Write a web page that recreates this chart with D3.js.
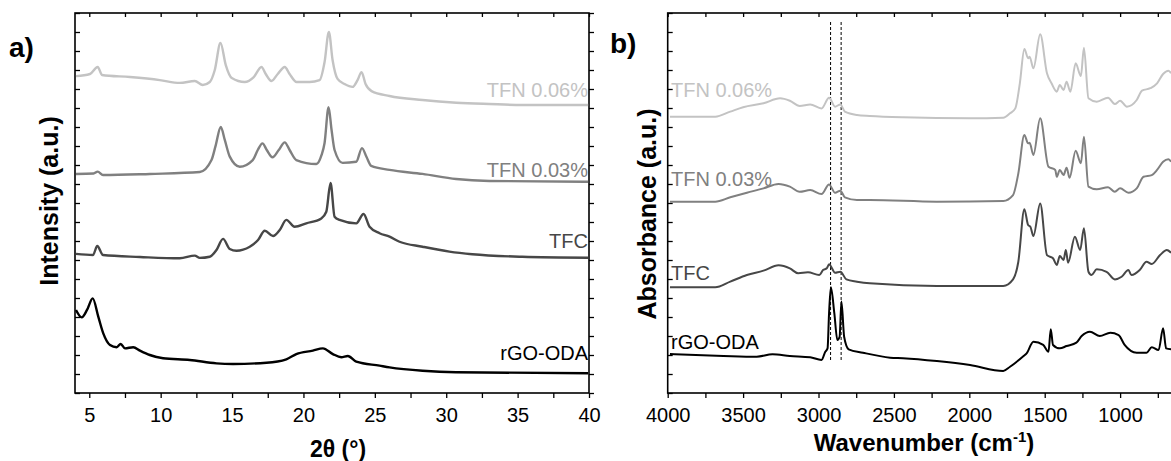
<!DOCTYPE html>
<html>
<head>
<meta charset="utf-8">
<script src="https://cdn.jsdelivr.net/npm/d3@7"></script>
<style>
  body { margin: 0; background: #fff; }
  text { font-family: "Liberation Sans", Arial, sans-serif; }
</style>
</head>
<body>
<div id="chart"></div>
<script>
// ---- data (intensity / absorbance in arbitrary units) ----
const seriesNames = ["rGO-ODA", "TFC", "TFN 0.03%", "TFN 0.06%"];
const seriesColors = ["#000000", "#474747", "#808080", "#c3c3c3"];

// a) XRD: [2theta (deg), intensity]
const xrdRgo = [[4.07,4.37],[4.47,3.98],[4.84,4.37],[5.24,4.98],[5.63,4.02],[5.98,3.14],[6.45,2.53],[6.92,2.41],[7.2,2.58],[7.5,2.35],[8.08,2.41],[8.55,2.23],[9.24,2.0],[10.17,1.83],[12.04,1.74],[13.91,1.56],[15.07,1.53],[17.41,1.59],[18.8,1.77],[19.5,2.05],[20.66,2.23],[21.36,2.35],[22.06,2.05],[22.65,1.88],[23.11,1.95],[23.7,1.65],[25.33,1.44],[26.03,1.35],[28.34,1.17],[30.69,1.09],[39.94,1.04]];
const xrdTfc = [[4.07,7.32],[5.26,7.26],[5.56,7.74],[5.96,7.26],[8.55,7.16],[11.34,7.09],[12.39,7.23],[12.74,7.11],[13.44,7.17],[13.91,7.53],[14.37,8.11],[14.84,7.58],[15.31,7.49],[16.24,7.7],[16.82,8.05],[17.29,8.54],[17.87,8.26],[18.34,8.58],[18.8,9.11],[19.38,8.75],[20.2,8.93],[21.25,9.19],[21.6,9.54],[21.9,11.05],[22.18,9.28],[22.53,9.11],[23.7,8.93],[24.21,9.42],[24.63,8.75],[25.33,8.41],[26.03,8.23],[26.73,7.96],[28.34,7.7],[30.22,7.44],[31.83,7.3],[35.33,7.17],[39.94,7.12]];
const xrdTfn003 = [[4.07,11.53],[5.3,11.55],[5.59,11.65],[5.96,11.47],[9.24,11.53],[12.74,11.63],[13.56,12.26],[13.86,13.05],[14.21,14.0],[14.49,13.32],[14.84,12.44],[15.54,11.91],[16.45,12.26],[16.8,12.79],[17.13,13.14],[17.43,12.79],[17.83,12.41],[18.27,12.79],[18.69,13.19],[19.03,12.79],[19.5,12.26],[20.9,12.05],[21.27,12.53],[21.48,13.16],[21.76,15.04],[21.97,13.84],[22.18,12.79],[22.74,12.11],[23.7,12.17],[24.1,12.89],[24.42,12.42],[24.75,11.95],[26.03,11.74],[28.34,11.53],[30.69,11.26],[33.02,11.16],[39.94,11.12]];
const xrdTfn006 = [[4.07,16.68],[5.05,16.79],[5.59,17.16],[5.89,16.74],[7.85,16.63],[9.94,16.47],[11.34,16.32],[12.39,16.42],[12.95,16.21],[13.44,16.37],[13.79,17.0],[14.19,18.42],[14.56,17.26],[14.98,16.58],[15.89,16.37],[16.52,16.63],[17.06,17.16],[17.36,16.79],[17.76,16.42],[18.2,16.79],[18.69,17.16],[19.03,16.79],[19.52,16.37],[20.43,16.37],[21.13,16.47],[21.48,17.42],[21.78,19.0],[22.04,17.53],[22.39,16.53],[22.88,16.26],[23.44,16.11],[23.79,16.47],[24.07,16.89],[24.35,16.26],[24.77,15.89],[26.03,15.63],[28.34,15.42],[30.71,15.28],[33.02,15.21],[35.33,15.16],[39.94,15.16]];

// b) FTIR: [wavenumber (cm-1), absorbance]
const ftirRgo = [[3985,2.05],[3630,1.95],[3410,1.91],[3305,2.04],[3190,1.95],[3055,1.88],[2980,1.74],[2955,2.17],[2940,2.35],[2930,4.19],[2918,5.56],[2895,4.19],[2875,2.79],[2860,2.96],[2848,4.81],[2830,2.96],[2800,2.3],[2705,2.12],[2525,1.86],[2440,1.83],[2215,1.68],[1995,1.47],[1775,1.16],[1730,1.38],[1640,1.95],[1620,2.09],[1575,2.7],[1510,2.53],[1475,2.17],[1460,3.35],[1445,2.53],[1400,2.35],[1355,2.47],[1290,2.65],[1255,3.0],[1200,3.23],[1135,3.0],[1065,3.17],[1010,3.05],[970,2.53],[890,2.12],[825,2.12],[790,2.41],[745,2.26],[715,3.41],[695,2.35],[662,2.3]];
const ftirTfc = [[3985,5.56],[3685,5.56],[3585,5.86],[3475,6.21],[3365,6.44],[3265,6.72],[3190,6.56],[3135,6.3],[3070,6.35],[2995,6.21],[2970,6.47],[2945,6.56],[2930,6.77],[2890,6.33],[2855,6.38],[2815,5.98],[2745,5.86],[2660,5.77],[2215,5.63],[1775,5.63],[1710,5.98],[1675,6.91],[1635,9.67],[1610,8.84],[1595,8.75],[1575,8.26],[1530,9.98],[1485,7.26],[1445,7.09],[1420,6.74],[1400,7.21],[1375,7.0],[1360,7.53],[1345,6.86],[1300,8.23],[1265,7.53],[1240,8.67],[1210,6.38],[1190,6.21],[1155,6.51],[1090,6.38],[1035,5.98],[990,6.12],[945,6.47],[925,6.21],[870,6.47],[825,6.91],[790,6.79],[735,7.26],[690,7.53],[662,7.38]];
const ftirTfn003 = [[3985,10.07],[3685,10.07],[3585,10.3],[3475,10.54],[3365,10.77],[3265,11.0],[3190,10.86],[3125,10.59],[3055,10.68],[2980,10.47],[2930,10.98],[2890,10.54],[2855,10.65],[2825,10.3],[2745,10.16],[2660,10.16],[2215,10.07],[1775,10.11],[1710,10.42],[1675,11.56],[1635,13.58],[1610,13.14],[1600,13.17],[1575,12.53],[1530,14.46],[1475,11.91],[1430,11.74],[1420,11.38],[1400,11.74],[1375,11.47],[1355,11.86],[1335,11.33],[1295,12.75],[1260,12.09],[1240,13.49],[1210,10.86],[1155,10.72],[1080,10.83],[1035,10.59],[1000,10.77],[945,10.54],[890,10.77],[845,11.38],[790,11.47],[755,11.74],[715,12.17],[680,12.3],[662,12.17]];
const ftirTfn006 = [[3985,14.54],[3685,14.54],[3585,14.81],[3500,15.04],[3365,15.25],[3255,15.51],[3190,15.38],[3125,15.11],[3055,15.19],[2980,14.98],[2930,15.54],[2890,15.07],[2855,15.19],[2825,14.81],[2745,14.63],[2660,14.58],[2440,14.51],[1995,14.46],[1775,14.49],[1730,14.72],[1695,14.98],[1665,16.3],[1635,18.11],[1610,17.62],[1600,17.7],[1575,17.09],[1530,18.88],[1485,16.83],[1455,16.3],[1420,15.86],[1400,16.21],[1375,15.95],[1355,16.38],[1330,15.86],[1295,17.35],[1260,16.68],[1240,18.17],[1210,15.51],[1155,15.33],[1080,15.54],[1035,15.21],[1000,15.38],[955,15.07],[890,15.42],[855,15.91],[800,16.04],[755,16.3],[715,16.79],[680,16.96],[662,16.83]];

const xrdTicks = [5, 10, 15, 20, 25, 30, 35, 40];
const ftirTicks = [4000, 3500, 3000, 2500, 2000, 1500, 1000];
const markerLines = [2920, 2850];

// ---- layout ----
const width = 1171, height = 461;
const plotTop = 13, plotBottom = 393;

const svg = d3.select("#chart").append("svg")
    .attr("width", width)
    .attr("height", height);

const y = d3.scaleLinear().domain([0, 20]).range([plotBottom, plotTop]);
const yTicks = d3.range(0, 21);

const xA = d3.scaleLinear().domain([4, 40]).range([75, 589]);
const xB = d3.scaleLinear().domain([4000, 650]).range([667.7, 1172.9]);

function styleAxis(g) {
    g.select(".domain").remove();
    g.selectAll(".tick line").attr("stroke", "#000").attr("stroke-width", 1.3);
    g.selectAll(".tick text").attr("font-size", 20).attr("fill", "#000")
        .attr("font-family", "Liberation Sans, Arial, sans-serif");
}

function drawFrame(x, xTickVals, majorVals) {
    const [x0, x1] = x.range();
    svg.append("g").attr("transform", `translate(0,${plotBottom})`)
        .call(d3.axisBottom(x).tickValues(xTickVals).tickSize(5).tickPadding(10)
            .tickFormat(d => majorVals.includes(d) ? d : ""))
        .call(styleAxis);
    svg.append("g").attr("transform", `translate(0,${plotTop})`)
        .call(d3.axisTop(x).tickValues(xTickVals).tickSize(-4).tickFormat(""))
        .call(styleAxis);
    svg.append("g").attr("transform", `translate(${x0},0)`)
        .call(d3.axisLeft(y).tickValues(yTicks).tickSize(-5).tickFormat(""))
        .call(styleAxis);
    svg.append("g").attr("transform", `translate(${x1},0)`)
        .call(d3.axisRight(y).tickValues(yTicks).tickSize(5).tickFormat(""))
        .call(styleAxis);
    svg.append("rect")
        .attr("x", x0).attr("y", plotTop)
        .attr("width", x1 - x0).attr("height", plotBottom - plotTop)
        .attr("fill", "none").attr("stroke", "#000").attr("stroke-width", 1.6);
}

function drawSeries(x, list, sw) {
    const line = d3.line()
        .x(d => x(d[0]))
        .y(d => y(d[1]))
        .curve(d3.curveMonotoneX);
    list.forEach(function(data, i) {
        svg.append("path")
            .datum(data)
            .attr("fill", "none")
            .attr("stroke", seriesColors[i])
            .attr("stroke-width", sw)
            .attr("stroke-linejoin", "round")
            .attr("d", line);
    });
}

// ---- panel a ----
drawFrame(xA, d3.range(5, 40.1, 2.5), xrdTicks);
drawSeries(xA, [xrdRgo, xrdTfc, xrdTfn003, xrdTfn006], 2.4);

const labelA = [360, 248, 177, 97];
seriesNames.forEach(function(name, i) {
    svg.append("text")
        .attr("x", 588).attr("y", labelA[i])
        .attr("text-anchor", "end")
        .attr("font-size", 20)
        .attr("fill", seriesColors[i])
        .text(name);
});

// ---- panel b ----
drawFrame(xB, d3.range(4000, 649, -250), ftirTicks);

markerLines.forEach(function(w) {
    svg.append("line")
        .attr("x1", xB(w)).attr("x2", xB(w))
        .attr("y1", 22).attr("y2", 361)
        .attr("stroke", "#000").attr("stroke-width", 1)
        .attr("stroke-dasharray", "3,2");
});

drawSeries(xB, [ftirRgo, ftirTfc, ftirTfn003, ftirTfn006], 2);

const labelB = [349, 280, 186, 97];
seriesNames.forEach(function(name, i) {
    svg.append("text")
        .attr("x", 671).attr("y", labelB[i])
        .attr("font-size", 20)
        .attr("fill", seriesColors[i])
        .text(name);
});

// ---- titles ----
svg.append("text").attr("x", 9).attr("y", 57)
    .attr("font-size", 28).attr("font-weight", "bold").text("a)");
svg.append("text").attr("x", 610).attr("y", 53)
    .attr("font-size", 28).attr("font-weight", "bold").text("b)");

svg.append("text")
    .attr("transform", "translate(58,201) rotate(-90)")
    .attr("text-anchor", "middle")
    .attr("font-size", 25).attr("font-weight", "bold")
    .text("Intensity (a.u.)");

svg.append("text")
    .attr("transform", "translate(656,214) rotate(-90)")
    .attr("text-anchor", "middle")
    .attr("font-size", 25).attr("font-weight", "bold")
    .text("Absorbance (a.u.)");

svg.append("text")
    .attr("x", 338).attr("y", 457)
    .attr("text-anchor", "middle")
    .attr("font-size", 23).attr("font-weight", "bold")
    .text("2θ (°)");

const wn = svg.append("text")
    .attr("x", 924).attr("y", 451)
    .attr("text-anchor", "middle")
    .attr("font-size", 24).attr("font-weight", "bold");
wn.append("tspan").text("Wavenumber (cm");
wn.append("tspan").attr("dy", -9).attr("font-size", 15).text("-1");
wn.append("tspan").attr("dy", 9).text(")");
</script>
</body>
</html>
